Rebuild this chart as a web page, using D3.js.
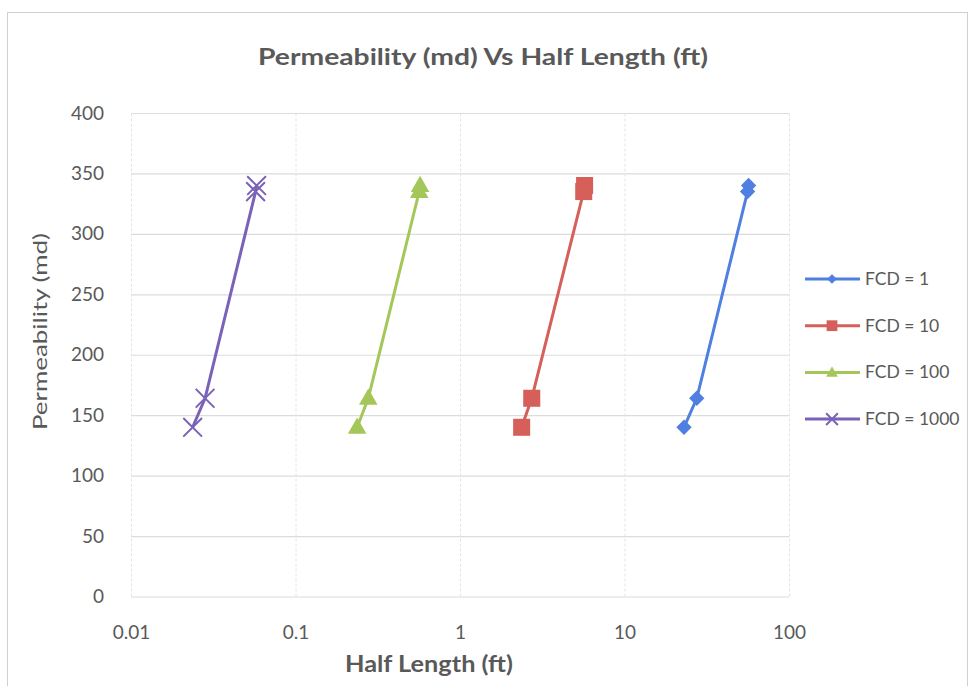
<!DOCTYPE html>
<html><head><meta charset="utf-8">
<script src="https://cdn.jsdelivr.net/npm/d3@7"></script>
<style>body{margin:0;background:#fff;} svg{display:block;}</style>
</head><body>
<svg id="c" width="974" height="686"></svg>
<script>
const chartTitle = "Permeability  (md) Vs Half Length (ft)";
const xTitle = "Half Length (ft)";
const yTitle = "Permeability (md)";
const xTicks = [0.01, 0.1, 1, 10, 100];
const yTicks = [0, 50, 100, 150, 200, 250, 300, 350, 400];
const seriesNames = ["FCD = 1", "FCD = 10", "FCD = 100", "FCD = 1000"];
const permeability = [140, 164, 335, 340];
const halfLengthFcd1 = [23.0, 27.5, 56.0, 56.8];
const halfLengthFcd10 = [2.37, 2.73, 5.65, 5.72];
const halfLengthFcd100 = [0.237, 0.277, 0.565, 0.572];
const halfLengthFcd1000 = [0.0237, 0.0282, 0.0572, 0.058];
const seriesColors = ["#4f7fe0", "#d65f5a", "#a5c75a", "#7a62b8"];
const seriesMarkers = ["diamond", "square", "triangle", "x"];

const halfLengths = [halfLengthFcd1, halfLengthFcd10, halfLengthFcd100, halfLengthFcd1000];
const series = seriesNames.map((n, i) => ({
  name: n, color: seriesColors[i], marker: seriesMarkers[i],
  pts: permeability.map((k, j) => ({x: halfLengths[i][j], y: k}))
}));

const svg = d3.select("#c");
const font = "Lato, 'Open Sans', sans-serif";
const textCol = "#595959";

// outer frame
svg.append("rect").attr("x", 7.5).attr("y", 12.5).attr("width", 960).attr("height", 690)
  .attr("fill", "#fff").attr("stroke", "#d0d0d0");

const L = 131, R = 789, T = 113, B = 596.5;
const x = d3.scaleLog().domain([0.01, 100]).range([L, R]);
const y = d3.scaleLinear().domain([0, 400]).range([B, T]);

// horizontal gridlines
svg.append("g").attr("transform", `translate(${L},0)`)
  .call(d3.axisLeft(y).tickValues(yTicks).tickSize(-(R - L)).tickFormat(""))
  .call(g => g.select(".domain").remove())
  .call(g => g.selectAll("line").attr("stroke", "#dcdcdc").attr("stroke-width", 1.2));

// vertical gridlines
svg.append("g").attr("transform", `translate(0,${B})`)
  .call(d3.axisBottom(x).tickValues(xTicks).tickSize(-(B - T)).tickFormat(""))
  .call(g => g.select(".domain").remove())
  .call(g => g.selectAll("line").attr("stroke", "#e4e4e4").attr("stroke-width", 1).attr("stroke-dasharray", "3,2"));

// y labels
svg.append("g").attr("transform", `translate(${L},0)`)
  .call(d3.axisLeft(y).tickValues(yTicks).tickSize(0).tickPadding(27).tickFormat(d3.format("d")))
  .call(g => g.select(".domain").remove())
  .call(g => g.selectAll("text").attr("font-family", font).attr("font-size", 19).attr("fill", textCol));

// x labels
svg.append("g").attr("transform", `translate(0,${B})`)
  .call(d3.axisBottom(x).tickValues(xTicks).tickSize(0).tickPadding(29).tickFormat(d => String(d)))
  .call(g => g.select(".domain").remove())
  .call(g => g.selectAll("text").attr("font-family", font).attr("font-size", 19).attr("fill", textCol));

// titles
svg.append("text").attr("x", 483).attr("y", 65).attr("text-anchor", "middle")
  .attr("font-family", font).attr("font-weight", "bold").attr("font-size", 22).attr("fill", textCol)
  .attr("textLength", 450).attr("lengthAdjust", "spacingAndGlyphs")
  .text(chartTitle);
svg.append("text").attr("x", 429).attr("y", 672).attr("text-anchor", "middle")
  .attr("font-family", font).attr("font-weight", "bold").attr("font-size", 22).attr("fill", textCol)
  .attr("textLength", 168).attr("lengthAdjust", "spacingAndGlyphs")
  .text(xTitle);
svg.append("text").attr("transform", "translate(47,331.5) rotate(-90)").attr("text-anchor", "middle")
  .attr("font-family", font).attr("font-size", 20).attr("fill", textCol)
  .attr("textLength", 197).attr("lengthAdjust", "spacingAndGlyphs")
  .text(yTitle);

function drawMarker(g, m, color, cx, cy, scale) {
  scale = scale || 1;
  if (m === "diamond") {
    g.append("path").attr("d", d3.symbol(d3.symbolDiamond2, 150 * scale)()).attr("transform", `translate(${cx},${cy})`).attr("fill", color);
  } else if (m === "square") {
    g.append("path").attr("d", d3.symbol(d3.symbolSquare, 290 * scale)()).attr("transform", `translate(${cx},${cy})`).attr("fill", color);
  } else if (m === "triangle") {
    g.append("path").attr("d", d3.symbol(d3.symbolTriangle, 150 * scale)()).attr("transform", `translate(${cx},${cy+1})`).attr("fill", color);
  } else {
    g.append("path").attr("d", d3.symbol(d3.symbolTimes, 230 * scale)()).attr("transform", `translate(${cx},${cy})`)
      .attr("fill", "none").attr("stroke", color).attr("stroke-width", 2);
  }
}

const line = d3.line().x(d => x(d.x)).y(d => y(d.y));
series.forEach(s => {
  const g = svg.append("g");
  g.append("path").attr("d", line(s.pts)).attr("fill", "none").attr("stroke", s.color).attr("stroke-width", 3);
  s.pts.forEach(p => drawMarker(g, s.marker, s.color, x(p.x), y(p.y)));
});

// legend
series.forEach((s, i) => {
  const ly = 279 + i * 46.7;
  const g = svg.append("g");
  g.append("line").attr("x1", 805).attr("x2", 860).attr("y1", ly).attr("y2", ly).attr("stroke", s.color).attr("stroke-width", 3);
  drawMarker(g, s.marker, s.color, 832, ly, 0.4);
  g.append("text").attr("x", 865).attr("y", ly + 6).attr("font-family", font).attr("font-size", 17.5).attr("fill", textCol).text(s.name);
});
</script>
</body></html>
